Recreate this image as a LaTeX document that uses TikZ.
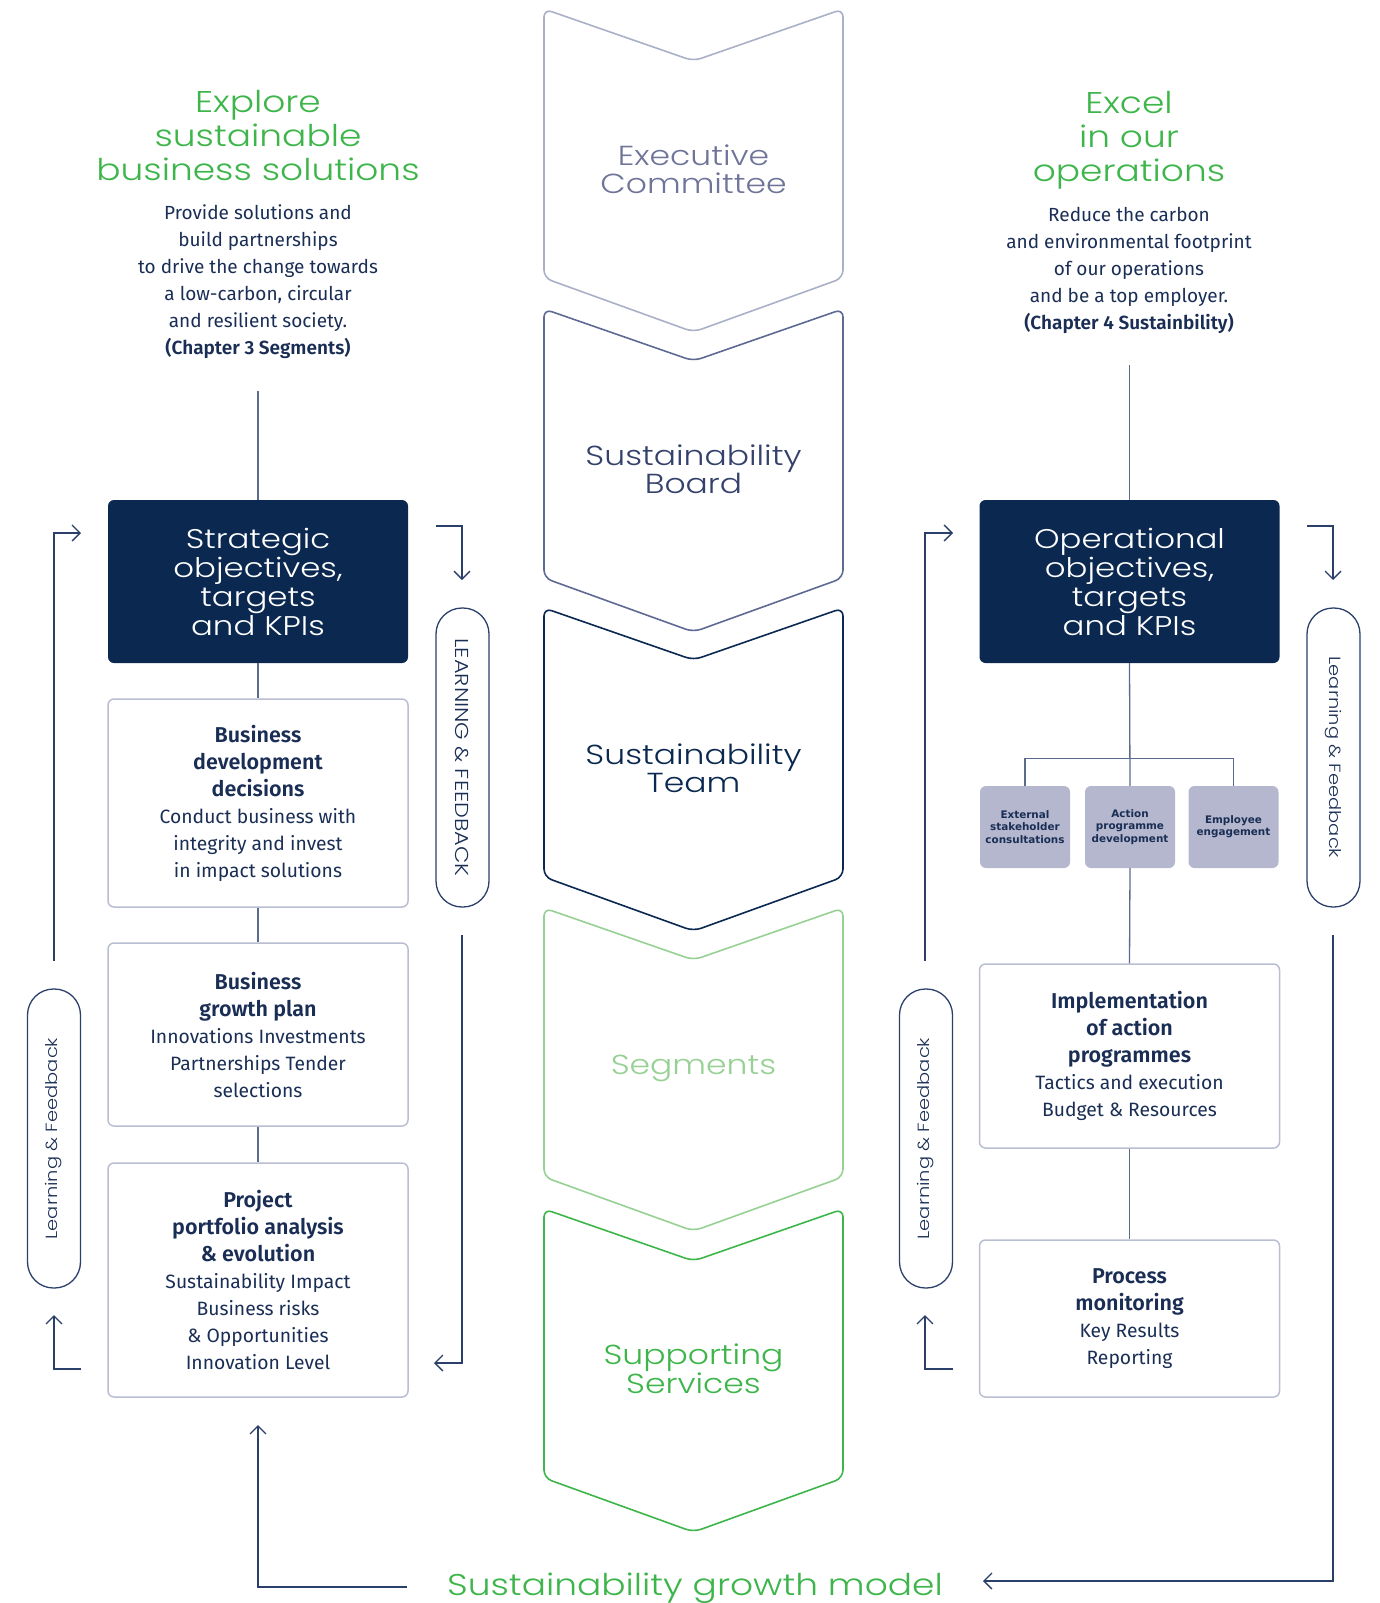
\documentclass[tikz,border=0pt]{standalone}
\usepackage{fontspec}
\setmainfont{Fira Sans}[BoldFont={Fira Sans SemiBold}]
\newfontfamily\dispfont{Poppins Light}[FakeStretch=1.2]
\newfontfamily\tinyfont{DejaVu Sans}
\usepackage{tikz}
\usetikzlibrary{arrows.meta,positioning}
\usepackage{xcolor}

\definecolor{navy}{HTML}{0A2850}
\definecolor{txt}{HTML}{1A2E55}
\definecolor{arrowc}{HTML}{2B3F6B}
\definecolor{colline}{HTML}{5A6B8C}
\definecolor{boxline}{HTML}{B9BED3}
\definecolor{smallfill}{HTML}{B4B7CD}
\definecolor{grn}{HTML}{3DB54A}
\definecolor{lgrn}{HTML}{96D193}
\definecolor{exec}{HTML}{AAB0C8}
\definecolor{exectxt}{HTML}{6F7499}
\definecolor{board}{HTML}{5E6A93}
\definecolor{boardtxt}{HTML}{34416B}

\newcommand\ttl[1]{{\fontsize{21.5}{27}\selectfont\textbf{#1}}}

\begin{document}
\begin{tikzpicture}[x=1pt, y=-1pt,
  head/.style={text=grn, font=\dispfont\fontsize{30}{34}\selectfont, align=center},
  body/.style={text=txt, font=\fontsize{19}{27}\selectfont, align=center},
  dark/.style={fill=navy, rounded corners=6, minimum width=300, minimum height=163,
    text=white, font=\dispfont\fontsize{27}{29}\selectfont, align=center},
  wbox/.style={draw=boxline, line width=1.5, rounded corners=6, minimum width=300,
    text=txt, font=\fontsize{19.3}{27}\selectfont, align=center},
  sbox/.style={fill=smallfill, rounded corners=6, minimum width=90, minimum height=82,
    text=txt, font=\tinyfont\bfseries\fontsize{10.4}{12.2}\selectfont, align=center},
  pill/.style={draw=arrowc, line width=1.3, rounded corners=26, minimum width=299,
    minimum height=53, text=txt, font=\dispfont\fontsize{16.2}{20}\selectfont},
  chevtext/.style={font=\dispfont\fontsize{27.5}{28}\selectfont, align=center},
  link/.style={draw=colline, line width=1.3},
  fb/.style={draw=arrowc, line width=1.3, -{Straight Barb[length=8pt,width=16pt]}}]

  \useasboundingbox (0,0) rectangle (1379,1603);

  % centre column
  \foreach \y/\col/\tcol/\txt/\nm in {
      9/exec/exectxt/{Executive\\Committee}/chexec,
      309/board/boardtxt/{Sustainability\\Board}/chboard,
      608/navy/navy/{Sustainability\\Team}/chteam,
      908/lgrn/lgrn/{Segments}/chseg,
      1209/grn/grn/{Supporting\\Services}/chsup} {
    \draw[\col, line width=1.6, rounded corners=8]
      (544,\y) -- (693.5,{\y+52}) -- (843,\y) -- (843,{\y+269})
      -- (693.5,{\y+323}) -- (544,{\y+269}) -- cycle;
    \node[chevtext, text=\tcol] (\nm) at (693.5,{\y+160}) {\txt};
  }

  \node[head] (model) at (695,1588) {Sustainability growth model};

  % left column
  \node[head] (headL) at (258,136) {Explore\\sustainable\\business solutions};
  \node[body] (textL) at (258,282) {Provide solutions and\\build partnerships\\to drive the change towards\\a low-carbon, circular\\and resilient society.\\\textbf{(Chapter 3 Segments)}};

  \node[dark] (strat) at (258,581.5) {Strategic\\objectives,\\targets\\and KPIs};
  \node[wbox, minimum height=208] (bizdev) at (258,803) {\ttl{Business}\\\ttl{development}\\\ttl{decisions}\\Conduct business with\\integrity and invest\\in impact solutions};
  \node[wbox, minimum height=183] (growth) at (258,1034.5) {\ttl{Business}\\\ttl{growth plan}\\Innovations Investments\\Partnerships Tender\\selections};
  \node[wbox, minimum height=234] (project) at (258,1280) {\ttl{Project}\\\ttl{portfolio analysis}\\\ttl{\& evolution}\\Sustainability Impact\\Business risks\\\& Opportunities\\Innovation Level};

  \node[pill, rotate=-90, font=\dispfont\fontsize{18.7}{20}\selectfont] (pillA) at (462.5,757.5) {LEARNING \& FEEDBACK};
  \node[pill, rotate=90] (pillB) at (54,1138.5) {Learning \& Feedback};

  \coordinate (topL) at (258,391);
  \draw[link] (topL) -- (strat.north);
  \draw[link] (strat) -- (bizdev);
  \draw[link] (bizdev) -- (growth);
  \draw[link] (growth) -- (project);

  \coordinate (l1s) at (54,961);   \coordinate (l1e) at (81,533);
  \coordinate (l2s) at (81,1369);  \coordinate (l2e) at (54,1315);
  \coordinate (l3s) at (436,526);  \coordinate (l3e) at (462,580);
  \coordinate (l4s) at (462,935);  \coordinate (l4e) at (434,1363);
  \coordinate (g1s) at (407,1587); \coordinate (g1e) at (258,1425);
  \draw[fb] (l1s) |- (l1e);
  \draw[fb] (l2s) -| (l2e);
  \draw[fb] (l3s) -| (l3e);
  \draw[fb] (l4s) |- (l4e);
  \draw[fb] (g1s) -| (g1e);

  % right column
  \node[head] (headR) at (1129,140) {Excel\\in our\\operations};
  \node[body] (textR) at (1129,270) {Reduce the carbon\\and environmental footprint\\of our operations\\and be a top employer.\\\textbf{(Chapter 4 Sustainbility)}};

  \node[dark] (oper) at (1129.5,581.5) {Operational\\objectives,\\targets\\and KPIs};
  \node[sbox] (ext) at (1025,827) {External\\stakeholder\\consultations};
  \node[sbox] (act) at (1130,827) {Action\\programme\\development};
  \node[sbox] (emp) at (1233.5,827) {Employee\\engagement};
  \node[wbox, minimum height=184] (impl) at (1129.5,1056) {\ttl{Implementation}\\\ttl{of action}\\\ttl{programmes}\\Tactics and execution\\Budget \& Resources};
  \node[wbox, minimum height=157] (proc) at (1129.5,1318.5) {\ttl{Process}\\\ttl{monitoring}\\Key Results\\Reporting};

  \node[pill, rotate=-90] (pillC) at (1333.5,757.5) {Learning \& Feedback};
  \node[pill, rotate=90] (pillD) at (926,1138.5) {Learning \& Feedback};

  \coordinate (topR) at (1129.5,365);
  \draw[link] (topR) -- (oper.north);
  \draw[link] (oper.south) -- (act.north);
  \draw[link] (ext.north) -- ++(0,-27) -| (emp.north);
  \draw[link] (act.south) -- (impl.north);
  \draw[link] (impl) -- (proc);

  \coordinate (r1s) at (925,961);   \coordinate (r1e) at (953,533);
  \coordinate (r2s) at (953,1369);  \coordinate (r2e) at (925,1315);
  \coordinate (r3s) at (1307,526);  \coordinate (r3e) at (1333,580);
  \coordinate (r4s) at (1333,935);  \coordinate (r4e) at (983,1581);
  \draw[fb] (r1s) |- (r1e);
  \draw[fb] (r2s) -| (r2e);
  \draw[fb] (r3s) -| (r3e);
  \draw[fb] (r4s) |- (r4e);
\end{tikzpicture}
\end{document}
